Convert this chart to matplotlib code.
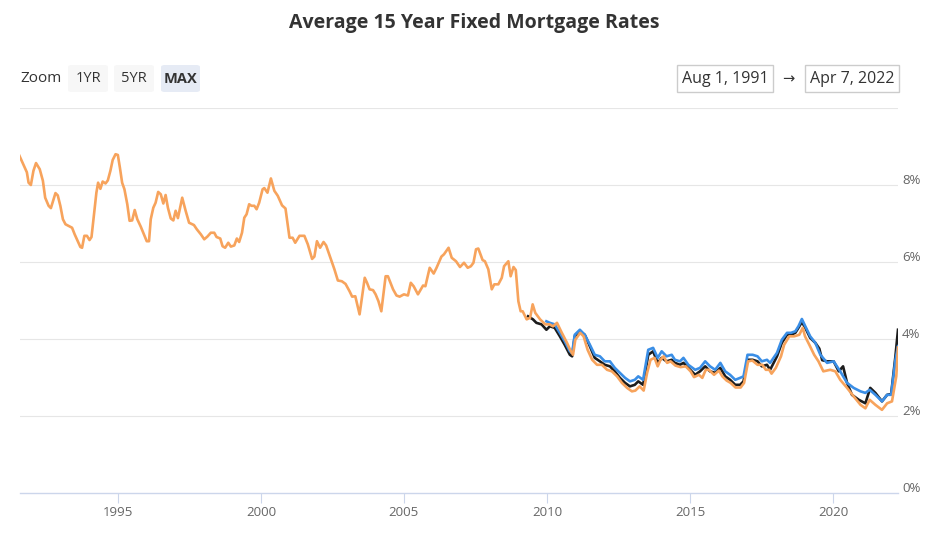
import matplotlib
matplotlib.use('Agg')
import matplotlib.pyplot as plt
from matplotlib.patches import FancyBboxPatch, Rectangle

# Freddie Mac style 15-year fixed rate (orange), decimal years
orange_year = [1991.56, 1991.82, 1991.88, 1991.96, 1992.05, 1992.14, 1992.27, 1992.38, 1992.46, 1992.58,
               1992.66, 1992.82, 1992.90, 1992.99, 1993.08, 1993.17, 1993.40, 1993.49, 1993.57, 1993.69,
               1993.75, 1993.83, 1993.92, 1994.01, 1994.08, 1994.16, 1994.25, 1994.31, 1994.39, 1994.47,
               1994.57, 1994.65, 1994.74, 1994.82, 1994.92, 1995.00, 1995.07, 1995.15, 1995.23, 1995.33,
               1995.41, 1995.50, 1995.59, 1995.68, 1995.80, 1995.91, 1996.01, 1996.09, 1996.15, 1996.24,
               1996.32, 1996.41, 1996.50, 1996.59, 1996.67, 1996.75, 1996.85, 1996.94, 1997.02, 1997.10,
               1997.25, 1997.37, 1997.49, 1997.66, 1997.76, 1997.90, 1998.02, 1998.13, 1998.25, 1998.37,
               1998.45, 1998.58, 1998.66, 1998.75, 1998.86, 1998.95, 1999.07, 1999.16, 1999.24, 1999.34,
               1999.42, 1999.50, 1999.59, 1999.67, 1999.77, 1999.85, 1999.94, 2000.06, 2000.12, 2000.23,
               2000.35, 2000.47, 2000.59, 2000.74, 2000.86, 2001.00, 2001.11, 2001.20, 2001.35, 2001.52,
               2001.64, 2001.79, 2001.87, 2001.96, 2002.07, 2002.19, 2002.28, 2002.43, 2002.57, 2002.69,
               2002.83, 2002.96, 2003.10, 2003.19, 2003.30, 2003.45, 2003.63, 2003.71, 2003.80, 2003.92,
               2004.01, 2004.11, 2004.21, 2004.36, 2004.44, 2004.62, 2004.74, 2004.85, 2005.00, 2005.14,
               2005.24, 2005.34, 2005.49, 2005.67, 2005.75, 2005.90, 2006.04, 2006.14, 2006.31, 2006.40,
               2006.56, 2006.67, 2006.82, 2006.96, 2007.10, 2007.23, 2007.34, 2007.43, 2007.52, 2007.60,
               2007.75, 2007.83, 2007.95, 2008.07, 2008.16, 2008.30, 2008.42, 2008.50, 2008.65, 2008.73,
               2008.83, 2008.91, 2009.00, 2009.08, 2009.15, 2009.29, 2009.41, 2009.50, 2009.59, 2009.76,
               2009.94, 2010.09, 2010.21, 2010.35, 2010.52, 2010.70, 2010.81, 2010.91, 2010.99, 2011.16,
               2011.28, 2011.42, 2011.58, 2011.75, 2011.92, 2012.10, 2012.27, 2012.45, 2012.62, 2012.80,
               2012.97, 2013.09, 2013.24, 2013.38, 2013.50, 2013.62, 2013.76, 2013.87, 2013.97, 2014.08,
               2014.20, 2014.32, 2014.49, 2014.67, 2014.85, 2015.02, 2015.14, 2015.31, 2015.43, 2015.55,
               2015.66, 2015.84, 2016.01, 2016.13, 2016.28, 2016.42, 2016.59, 2016.77, 2016.89, 2017.03,
               2017.18, 2017.36, 2017.53, 2017.65, 2017.77, 2017.85, 2018.00, 2018.18, 2018.29, 2018.47,
               2018.64, 2018.82, 2018.94, 2019.02, 2019.17, 2019.34, 2019.49, 2019.66, 2019.90, 2020.08,
               2020.25, 2020.49, 2020.72, 2020.96, 2021.13, 2021.28, 2021.48, 2021.71, 2021.89, 2022.06,
               2022.21, 2022.27]
orange_rate = [8.76, 8.33, 8.06, 8.00, 8.37, 8.57, 8.41, 8.11, 7.67, 7.46,
               7.40, 7.79, 7.73, 7.46, 7.11, 6.98, 6.89, 6.72, 6.59, 6.39,
               6.37, 6.68, 6.68, 6.57, 6.65, 7.20, 7.80, 8.06, 7.90, 8.09,
               8.04, 8.12, 8.37, 8.65, 8.80, 8.78, 8.46, 8.06, 7.89, 7.50,
               7.07, 7.08, 7.35, 7.11, 6.92, 6.72, 6.54, 6.54, 7.11, 7.41,
               7.54, 7.82, 7.76, 7.52, 7.74, 7.41, 7.13, 7.08, 7.33, 7.14,
               7.67, 7.33, 7.02, 6.96, 6.85, 6.72, 6.59, 6.66, 6.76, 6.76,
               6.65, 6.61, 6.41, 6.37, 6.50, 6.40, 6.43, 6.61, 6.52, 6.76,
               7.15, 7.24, 7.50, 7.46, 7.46, 7.37, 7.54, 7.89, 7.92, 7.80,
               8.17, 7.85, 7.72, 7.47, 7.39, 6.63, 6.63, 6.50, 6.68, 6.68,
               6.46, 6.08, 6.14, 6.54, 6.37, 6.52, 6.43, 6.11, 5.81, 5.52,
               5.50, 5.43, 5.24, 5.10, 5.11, 4.64, 5.59, 5.46, 5.29, 5.27,
               5.16, 4.98, 4.72, 5.63, 5.63, 5.29, 5.13, 5.10, 5.16, 5.13,
               5.46, 5.37, 5.16, 5.39, 5.37, 5.85, 5.70, 5.85, 6.14, 6.20,
               6.37, 6.11, 6.02, 5.87, 5.98, 5.85, 5.89, 5.98, 6.33, 6.35,
               6.05, 6.02, 5.81, 5.29, 5.42, 5.42, 5.59, 5.89, 6.02, 5.63,
               5.87, 5.79, 4.98, 4.72, 4.72, 4.51, 4.55, 4.90, 4.68, 4.51,
               4.38, 4.38, 4.33, 4.42, 4.16, 3.90, 3.72, 3.59, 3.98, 4.16,
               4.07, 3.72, 3.46, 3.33, 3.33, 3.20, 3.16, 3.03, 2.86, 2.73,
               2.64, 2.66, 2.77, 2.66, 3.12, 3.46, 3.51, 3.29, 3.46, 3.55,
               3.38, 3.42, 3.31, 3.27, 3.29, 3.16, 3.01, 3.07, 2.99, 3.20,
               3.20, 3.07, 3.18, 3.03, 2.92, 2.86, 2.74, 2.74, 2.86, 3.42,
               3.44, 3.33, 3.33, 3.20, 3.20, 3.10, 3.25, 3.55, 3.85, 4.07,
               4.07, 4.11, 4.29, 4.07, 3.85, 3.59, 3.42, 3.16, 3.20, 3.16,
               2.94, 2.73, 2.51, 2.29, 2.20, 2.42, 2.29, 2.16, 2.33, 2.38,
               3.03, 3.78]

# second series (black), from 2009
black_year = [2009.34, 2009.51, 2009.63, 2009.81, 2009.98, 2010.10, 2010.27, 2010.45, 2010.62, 2010.80,
              2010.88, 2010.97, 2011.15, 2011.32, 2011.50, 2011.67, 2011.85, 2012.02, 2012.20, 2012.37,
              2012.55, 2012.73, 2012.90, 2013.07, 2013.19, 2013.36, 2013.54, 2013.71, 2013.87, 2014.01,
              2014.18, 2014.36, 2014.47, 2014.65, 2014.77, 2014.94, 2015.18, 2015.35, 2015.53, 2015.70,
              2015.88, 2016.06, 2016.23, 2016.40, 2016.58, 2016.75, 2016.87, 2017.01, 2017.19, 2017.36,
              2017.51, 2017.69, 2017.80, 2018.04, 2018.21, 2018.39, 2018.53, 2018.68, 2018.79, 2018.91,
              2019.03, 2019.20, 2019.38, 2019.52, 2019.62, 2019.79, 2020.02, 2020.20, 2020.35, 2020.49,
              2020.66, 2020.90, 2021.13, 2021.30, 2021.48, 2021.71, 2021.89, 2022.03, 2022.18, 2022.27]
black_rate = [4.59, 4.51, 4.42, 4.38, 4.24, 4.33, 4.29, 4.07, 3.85, 3.59,
              3.55, 4.07, 4.20, 4.11, 3.81, 3.51, 3.42, 3.33, 3.29, 3.16,
              2.99, 2.86, 2.77, 2.81, 2.90, 2.81, 3.59, 3.68, 3.38, 3.51,
              3.42, 3.46, 3.38, 3.33, 3.38, 3.25, 3.07, 3.16, 3.29, 3.16,
              3.12, 3.25, 3.03, 2.94, 2.81, 2.81, 2.90, 3.46, 3.46, 3.42,
              3.29, 3.33, 3.20, 3.55, 3.90, 4.11, 4.11, 4.16, 4.29, 4.44,
              4.29, 4.03, 3.90, 3.75, 3.45, 3.42, 3.42, 3.16, 3.29, 2.86,
              2.55, 2.42, 2.33, 2.73, 2.60, 2.38, 2.55, 2.57, 3.55, 4.24]

# third series (blue), from 2010
blue_year = [2009.98, 2010.10, 2010.27, 2010.45, 2010.62, 2010.80, 2010.88, 2010.97, 2011.15, 2011.32,
             2011.50, 2011.67, 2011.85, 2012.02, 2012.20, 2012.37, 2012.55, 2012.73, 2012.90, 2013.07,
             2013.19, 2013.36, 2013.54, 2013.71, 2013.87, 2014.01, 2014.18, 2014.36, 2014.47, 2014.65,
             2014.77, 2014.94, 2015.18, 2015.35, 2015.53, 2015.70, 2015.88, 2016.06, 2016.23, 2016.40,
             2016.58, 2016.75, 2016.87, 2017.01, 2017.19, 2017.36, 2017.51, 2017.69, 2017.80, 2018.04,
             2018.21, 2018.39, 2018.53, 2018.68, 2018.79, 2018.91, 2019.03, 2019.20, 2019.38, 2019.55,
             2019.79, 2020.02, 2020.25, 2020.49, 2020.72, 2020.96, 2021.13, 2021.28, 2021.48, 2021.71,
             2021.89, 2022.03, 2022.18, 2022.27]
blue_rate = [4.46, 4.42, 4.38, 4.16, 3.94, 3.68, 3.64, 4.11, 4.24, 4.11,
             3.85, 3.59, 3.55, 3.42, 3.42, 3.25, 3.12, 2.99, 2.90, 2.94,
             3.03, 2.94, 3.72, 3.77, 3.51, 3.68, 3.55, 3.59, 3.46, 3.42,
             3.51, 3.33, 3.20, 3.25, 3.42, 3.29, 3.20, 3.38, 3.16, 3.07,
             2.94, 2.99, 3.03, 3.59, 3.59, 3.55, 3.42, 3.46, 3.38, 3.64,
             3.98, 4.16, 4.16, 4.20, 4.33, 4.52, 4.33, 4.07, 3.90, 3.60,
             3.38, 3.42, 3.16, 2.86, 2.73, 2.64, 2.60, 2.68, 2.55, 2.38,
             2.55, 2.55, 3.46, 3.81]

year_ticks = [1995, 2000, 2005, 2010, 2015, 2020]
rate_ticks = [0, 2, 4, 6, 8]

W, H = 949, 536
def fx(x):
    return x / W
def fy(y):
    return 1 - y / H

plt.rcParams['font.family'] = ['Open Sans', 'DejaVu Sans']

fig = plt.figure(figsize=(W / 100, H / 100), dpi=100)
ax = fig.add_axes([fx(20), fy(493), fx(898) - fx(20), fy(108) - fy(493)])

ax.plot(black_year, black_rate, color='#1c1c1c', lw=1.9, zorder=3)
ax.plot(blue_year, blue_rate, color='#3a8ee6', lw=1.9, zorder=4)
ax.plot(orange_year, orange_rate, color='#f7a35c', lw=1.9, zorder=5)

ax.set_xlim(1991.58, 2022.27)
ax.set_ylim(0, 10)

for v in [2, 4, 6, 8, 10]:
    ax.axhline(v, color='#e6e6e6', lw=0.8, zorder=1)

ax.set_yticks([])
ax.set_xticks(year_ticks)
ax.set_xticklabels([str(y) for y in year_ticks])
ax.tick_params(axis='x', colors='#ccd6eb', length=7.5, width=0.8, pad=2,
               labelcolor='#666666', labelsize=9.5)
for s in ['top', 'left', 'right']:
    ax.spines[s].set_visible(False)
ax.spines['bottom'].set_color('#ccd6eb')
ax.spines['bottom'].set_linewidth(1)

for v in rate_ticks:
    ax.annotate(f'{v}%', xy=(1, v), xycoords=('axes fraction', 'data'),
                xytext=(3, 3), textcoords='offset points', va='center', ha='left',
                color='#666666', fontsize=9.5, annotation_clip=False)

fig.text(0.5, fy(23), 'Average 15 Year Fixed Mortgage Rates', ha='center', va='center',
         fontsize=14, color='#333333', fontweight='bold')

# range selector
fig.text(fx(20), fy(79), 'Zoom', ha='left', va='center', fontsize=11, color='#333333')
buttons = [('1YR', 68, 108, '#f7f7f7', 'normal'),
           ('5YR', 114, 154, '#f7f7f7', 'normal'),
           ('MAX', 161, 200, '#e6ebf5', 'bold')]
for label, x0, x1, bg, wt in buttons:
    fig.patches.append(FancyBboxPatch((fx(x0), fy(92)), fx(x1) - fx(x0), fy(65) - fy(92),
                                      boxstyle='round,pad=0,rounding_size=0.004',
                                      transform=fig.transFigure, facecolor=bg, edgecolor='none'))
    fig.text(fx((x0 + x1) / 2), fy(79), label, ha='center', va='center', fontsize=10.5,
             color='#333333', fontweight=wt)

# date inputs
for label, x0, x1 in [('Aug 1, 1991', 677, 773), ('Apr 7, 2022', 805, 899)]:
    fig.patches.append(Rectangle((fx(x0), fy(92)), fx(x1) - fx(x0), fy(65) - fy(92),
                                 transform=fig.transFigure, facecolor='white',
                                 edgecolor='#cccccc', lw=1))
    fig.text(fx((x0 + x1) / 2), fy(79), label, ha='center', va='center', fontsize=11.5,
             color='#333333')
fig.text(fx(788), fy(79), '\u2192', ha='center', va='center', fontsize=10.5, color='#333333',
         family=['DejaVu Sans'])

fig.savefig('out.png', dpi=100)
